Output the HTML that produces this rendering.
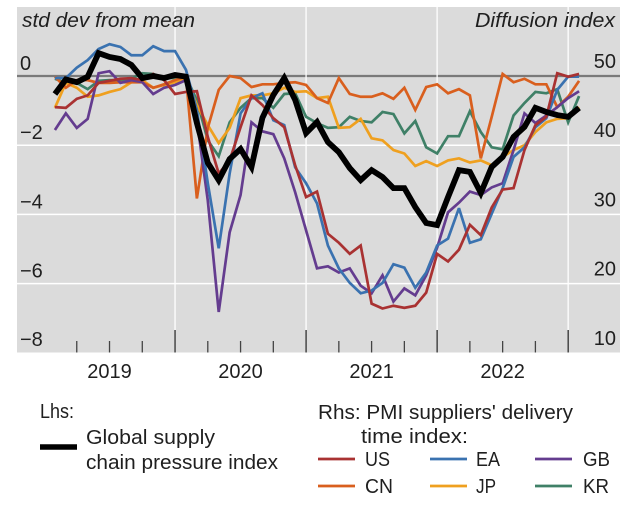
<!DOCTYPE html>
<html lang="en">
<head>
<meta charset="utf-8">
<title>Supply chain pressure chart</title>
<style>
html,body{margin:0;padding:0;background:#fff}
svg{display:block}
text{font-family:"Liberation Sans",sans-serif;fill:#1f1f1f;font-size:20px}
</style>
</head>
<body>
<svg id="chart" width="643" height="505" viewBox="0 0 643 505" xmlns="http://www.w3.org/2000/svg">
  <rect x="17" y="7" width="603" height="345.500" fill="#dbdbdb"/>
  <g id="grid"></g>
  <g id="ticks"></g>
  <g id="labels"></g>
  <g id="series"></g>

  <text x="22" y="27" font-style="italic" textLength="173" lengthAdjust="spacingAndGlyphs">std dev from mean</text>
  <text x="475" y="27" font-style="italic" textLength="140" lengthAdjust="spacingAndGlyphs">Diffusion index</text>

  <g>
    <text x="40" y="418" textLength="34" lengthAdjust="spacingAndGlyphs">Lhs:</text>
    <line x1="40" x2="77" y1="447" y2="447" stroke="#000" stroke-width="5.500"/>
    <text x="86" y="444" textLength="129" lengthAdjust="spacingAndGlyphs">Global supply</text>
    <text x="86" y="469" textLength="192" lengthAdjust="spacingAndGlyphs">chain pressure index</text>
    <text x="318" y="419" textLength="255" lengthAdjust="spacingAndGlyphs">Rhs: PMI suppliers' delivery</text>
    <text x="361" y="443" textLength="107" lengthAdjust="spacingAndGlyphs">time index:</text>

    <line x1="318" x2="355" y1="459" y2="459" stroke="#a93232" stroke-width="2.800"/>
    <text x="365" y="466" textLength="25" lengthAdjust="spacingAndGlyphs">US</text>
    <line x1="430" x2="467" y1="459" y2="459" stroke="#3a72b0" stroke-width="2.800"/>
    <text x="476" y="466" textLength="24" lengthAdjust="spacingAndGlyphs">EA</text>
    <line x1="535" x2="572" y1="459" y2="459" stroke="#643c8f" stroke-width="2.800"/>
    <text x="583" y="466" textLength="27" lengthAdjust="spacingAndGlyphs">GB</text>
    <line x1="318" x2="355" y1="486" y2="486" stroke="#d95f1e" stroke-width="2.800"/>
    <text x="365" y="493" textLength="28" lengthAdjust="spacingAndGlyphs">CN</text>
    <line x1="430" x2="467" y1="486" y2="486" stroke="#efa01f" stroke-width="2.800"/>
    <text x="476" y="493" textLength="20" lengthAdjust="spacingAndGlyphs">JP</text>
    <line x1="535" x2="572" y1="486" y2="486" stroke="#3f8067" stroke-width="2.800"/>
    <text x="583" y="493" textLength="26" lengthAdjust="spacingAndGlyphs">KR</text>
  </g>
</svg>
<script>
const years = ['2019', '2020', '2021', '2022'];
const leftTicks = [0, -2, -4, -6, -8];
const rightTicks = [50, 40, 30, 20, 10];
// Monthly observations, February 2019 to February 2023
const firstMonthIndex = 1;
const gscpi = [-0.52,-0.10,-0.18,-0.02,0.66,0.55,0.49,0.32,-0.06,0,-0.06,0.03,-0.02,-1.36,-2.51,-3.01,-2.40,-2.11,-2.63,-1.21,-0.55,-0.06,-0.69,-1.65,-1.33,-1.91,-2.20,-2.66,-3.01,-2.72,-2.92,-3.24,-3.24,-3.79,-4.25,-4.31,-3.50,-2.72,-2.77,-3.38,-2.63,-2.34,-1.76,-1.47,-0.92,-1.04,-1.13,-1.18,-0.92];
const us = [45.5,45.4,46.7,47.2,49.0,49.3,49.6,49.7,49.4,50.3,49.4,47.4,47.7,47.8,41.2,35.9,37.8,42.6,47.2,45.8,43.9,42.6,37.1,32.5,33.3,27.2,25.9,24.3,25.5,17.1,16.4,16.8,16.5,16.8,18.7,24.3,23.2,24.9,28.5,27.0,31.0,33.6,33.8,39.3,42.9,44.1,50.4,49.9,50.3];
const ea = [49.7,49.7,51.2,52.3,53.9,54.6,54.2,53.0,53.0,54.3,53.6,53.6,50.9,45.1,34.5,25.1,35.9,44.6,46.8,47.5,43.6,42.9,36.8,34.5,31.6,25.5,22.2,20.1,18.6,19.0,20.1,22.8,22.3,19.4,21.6,25.5,26.5,30.9,25.9,26.4,30.1,33.8,38.3,39.7,42.6,43.9,48.0,49.9,49.9];
const gb = [42.2,44.6,42.5,43.8,50.4,50.7,49.0,49.4,49.1,47.4,48.3,48.7,49.4,43.6,32.0,15.9,27.4,32.8,43.3,42.0,41.6,38.1,33.2,27.7,22.2,22.5,21.6,22.2,19.7,18.6,21.2,17.4,19.3,18.3,21.2,25.2,30.3,31.7,33.3,32.8,33.9,34.5,39.3,44.6,43.2,44.3,45.5,46.8,47.8];
const cn = [49.9,48.3,49.4,49.4,49.0,49.0,49.1,49.1,49.1,48.3,48.8,49.4,49.9,32.3,42.5,48.0,50.0,49.7,48.4,48.8,48.8,49.0,49.1,48.7,46.8,46.1,49.7,47.4,47.0,47.0,47.5,46.7,48.3,45.1,48.4,48.8,47.5,48.1,47.2,38.1,44.1,50.3,49.1,49.6,48.8,48.8,45.5,47.0,49.3];
const jp = [45.4,49.0,48.3,47.0,47.2,47.7,48.1,49.1,49.4,48.3,48.7,49.1,49.7,45.8,42.9,40.3,42.5,46.8,47.2,47.2,47.5,48.3,47.7,47.8,46.8,47.0,42.5,42.6,43.8,41.0,40.7,39.3,38.8,37.0,37.7,37.0,37.8,38.1,37.5,37.8,37.1,38.3,39.3,40.0,41.9,43.3,43.8,43.9,45.5];
const kr = [49.6,49.0,49.0,48.1,49.3,49.4,49.4,49.6,50.4,50.3,49.7,49.7,49.9,46.5,40.7,38.4,43.3,45.4,46.8,46.8,45.4,47.4,47.5,44.1,43.2,42.5,42.6,44.1,43.5,43.3,44.8,44.5,41.7,43.5,39.7,38.8,41.3,41.3,44.9,41.9,39.7,39.4,44.3,46.1,47.7,47.5,48.1,43.3,47.1];

const NS = 'http://www.w3.org/2000/svg';
function xMonth(m) { return 44 + 10.92 * m; }
function yLeft(v) { return 76 - 34.6 * v; }
function yRight(v) { return yLeft((v - 50) / 5); }

function makeLine(parent, x1, y1, x2, y2, color, width) {
  const el = document.createElementNS(NS, 'line');
  el.setAttribute('x1', x1);
  el.setAttribute('y1', y1);
  el.setAttribute('x2', x2);
  el.setAttribute('y2', y2);
  el.setAttribute('stroke', color);
  el.setAttribute('stroke-width', width);
  parent.appendChild(el);
  return el;
}
function makeText(parent, x, y, str, anchor) {
  const el = document.createElementNS(NS, 'text');
  el.setAttribute('x', x);
  el.setAttribute('y', y);
  el.setAttribute('text-anchor', anchor);
  el.textContent = str;
  parent.appendChild(el);
  return el;
}

const gridG = document.getElementById('grid');
const ticksG = document.getElementById('ticks');
const labelsG = document.getElementById('labels');
const seriesG = document.getElementById('series');

leftTicks.forEach(function (v) {
  if (v === -8) return;
  const g = makeLine(gridG, 17, yLeft(v), 620, yLeft(v), v === 0 ? '#7a7a7a' : '#ffffff', v === 0 ? 2.2 : 1.5);
  
  
  const lab = makeText(labelsG, 20, yLeft(v) - 6, String(v).replace('-', '\u2212'), 'start');
  
  
});
const lastLab = makeText(labelsG, 20, yLeft(-8) - 7, '\u22128', 'start');



rightTicks.forEach(function (v) {
  const lab = makeText(labelsG, 616, yRight(v) - 8, String(v), 'end');
  
  
});

years.forEach(function (yr, i) {
  const start = i * 12;
  const mid = makeText(labelsG, xMonth(start + 6), 378, yr, 'middle');
  
  
  [3, 6, 9].forEach(function (q) {
    const t = makeLine(ticksG, xMonth(start + q), 341, xMonth(start + q), 352.5, '#444444', 1.3);
    
    
  });
  const end = xMonth(start + 12);
  const sep = makeLine(gridG, end, 7, end, 330, '#ffffff', 1.3);
  
  
  const major = makeLine(ticksG, end, 330, end, 352.5, '#222222', 1.2);
  
  
});

function drawSeries(values, yFn, color, width, name) {
  const pts = values.map(function (v, i) {
    return xMonth(firstMonthIndex + i).toFixed(2) + ',' + yFn(v).toFixed(2);
  }).join(' ');
  const el = document.createElementNS(NS, 'polyline');
  el.setAttribute('points', pts);
  el.setAttribute('fill', 'none');
  el.setAttribute('stroke', color);
  el.setAttribute('stroke-width', width);
  el.setAttribute('stroke-linejoin', 'miter');
  el.setAttribute('stroke-miterlimit', '3');
  
  
  seriesG.appendChild(el);
}
drawSeries(kr, yRight, '#3f8067', 2.7, 'series-kr');
drawSeries(jp, yRight, '#efa01f', 2.7, 'series-jp');
drawSeries(cn, yRight, '#d95f1e', 2.7, 'series-cn');
drawSeries(gb, yRight, '#643c8f', 2.7, 'series-gb');
drawSeries(ea, yRight, '#3a72b0', 2.7, 'series-ea');
drawSeries(us, yRight, '#a93232', 2.7, 'series-us');
drawSeries(gscpi, yLeft, '#000000', 5.8, 'series-global-supply-chain-pressure');
</script>
</body>
</html>
